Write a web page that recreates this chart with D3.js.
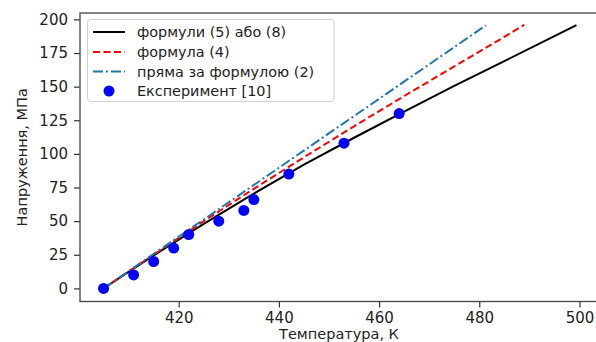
<!DOCTYPE html>
<html><head><meta charset="utf-8">
<script src="https://cdn.jsdelivr.net/npm/d3@7"></script>
<style>body{margin:0;background:#fff;} text{font-family:"DejaVu Sans",sans-serif;}</style>
</head><body>
<svg id="c" width="596" height="342"></svg>
<script>
// Data
const blackT = [405, 415, 425, 435, 445, 455, 465, 475, 485, 495, 499.4];
const blackS = [0, 24.5, 48, 70.5, 92, 112, 131.5, 150.5, 169, 187.5, 195.7];
const redT = [405, 415, 425, 435, 445, 455, 465, 475, 485, 489];
const redS = [0, 25, 50, 74, 97.5, 120.5, 143, 165, 187, 196];
const blueT = [405, 481.3];
const blueS = [0, 195.5];
const expT = [405, 411, 415, 419, 422, 428, 433, 435, 442, 453, 464];
const expS = [0, 10, 20, 30, 40, 50, 58, 66, 85, 108, 130];
const xTicks = [420, 440, 460, 480, 500];
const yTicks = [0, 25, 50, 75, 100, 125, 150, 175, 200];
const legendLabels = ["формули (5) або (8)", "формула (4)", "пряма за формулою (2)", "Експеримент [10]"];
const xLabel = "Температура, К";
const yLabel = "Напруження, МПа";

const svg = d3.select("#c");
const L = 80, R = 598, T = 13, B = 301.5;
const x = d3.scaleLinear().domain([400.3, 503.7]).range([L, R]);
const y = d3.scaleLinear().domain([-9.75, 204.75]).range([B, T]);
const FS = "15px";

svg.append("clipPath").attr("id", "clip").append("rect")
  .attr("x", L).attr("y", T).attr("width", R - L).attr("height", B - T);

const g = svg.append("g").attr("clip-path", "url(#clip)");
const line = d3.line().x(d => x(d[0])).y(d => y(d[1]));

g.append("path").datum(blackT.map((t, i) => [t, blackS[i]]))
  .attr("d", line).attr("fill", "none").attr("stroke", "#000").attr("stroke-width", 2);
g.append("path").datum(redT.map((t, i) => [t, redS[i]]))
  .attr("d", line).attr("fill", "none").attr("stroke", "#ff0000").attr("stroke-width", 2)
  .attr("stroke-dasharray", "7,3.5");
g.append("path").datum(blueT.map((t, i) => [t, blueS[i]]))
  .attr("d", line).attr("fill", "none").attr("stroke", "#1f77b4").attr("stroke-width", 2)
  .attr("stroke-dasharray", "10,3,2,3");
g.selectAll("circle.exp").data(expT.map((t, i) => [t, expS[i]])).enter()
  .append("circle").attr("class", "exp")
  .attr("cx", d => x(d[0])).attr("cy", d => y(d[1])).attr("r", 5.5).attr("fill", "#0000ff");

// axes
const xAxis = svg.append("g").attr("transform", `translate(0,${B})`)
  .call(d3.axisBottom(x).tickValues(xTicks).tickSize(6).tickPadding(5).tickFormat(d3.format("d")));
const yAxis = svg.append("g").attr("transform", `translate(${L},0)`)
  .call(d3.axisLeft(y).tickValues(yTicks).tickSize(6).tickPadding(6).tickFormat(d3.format("d")));
[xAxis, yAxis].forEach(a => {
  a.select(".domain").remove();
  a.selectAll(".tick line").attr("stroke", "#333").attr("stroke-width", 1.2);
  a.selectAll(".tick text").attr("fill", "#222").style("font-size", FS).style("font-family", "DejaVu Sans");
});

// spines
svg.append("rect").attr("x", L).attr("y", T).attr("width", R - L).attr("height", B - T)
  .attr("fill", "none").attr("stroke", "#444").attr("stroke-width", 1.3);

// labels
svg.append("text").attr("x", (L + R) / 2).attr("y", 338.5).attr("text-anchor", "middle")
  .style("font-size", "14.5px").attr("fill", "#222").text(xLabel);
svg.append("text").attr("transform", `translate(27,${(T + B) / 2}) rotate(-90)`)
  .attr("text-anchor", "middle").style("font-size", "14.5px").attr("fill", "#222").text(yLabel);

// legend
const lg = svg.append("g");
lg.append("rect").attr("x", 87.5).attr("y", 19.5).attr("width", 246.5).attr("height", 82).attr("rx", 3)
  .attr("fill", "#fff").attr("fill-opacity", 0.85).attr("stroke", "#d0d0d0");
const ly = [32, 52, 71.5, 91];
const styles = [
  {stroke: "#000", dash: null},
  {stroke: "#ff0000", dash: "7,3.5"},
  {stroke: "#1f77b4", dash: "10,3,2,3"}
];
styles.forEach((s, i) => {
  lg.append("line").attr("x1", 93).attr("x2", 125).attr("y1", ly[i]).attr("y2", ly[i])
    .attr("stroke", s.stroke).attr("stroke-width", 2).attr("stroke-dasharray", s.dash);
});
lg.append("circle").attr("cx", 109).attr("cy", ly[3]).attr("r", 5.5).attr("fill", "#0000ff");
legendLabels.forEach((t, i) => {
  lg.append("text").attr("x", 137).attr("y", ly[i]).attr("dy", "0.35em")
    .style("font-size", "14.4px").attr("fill", "#222").text(t);
});
</script>
</body></html>
